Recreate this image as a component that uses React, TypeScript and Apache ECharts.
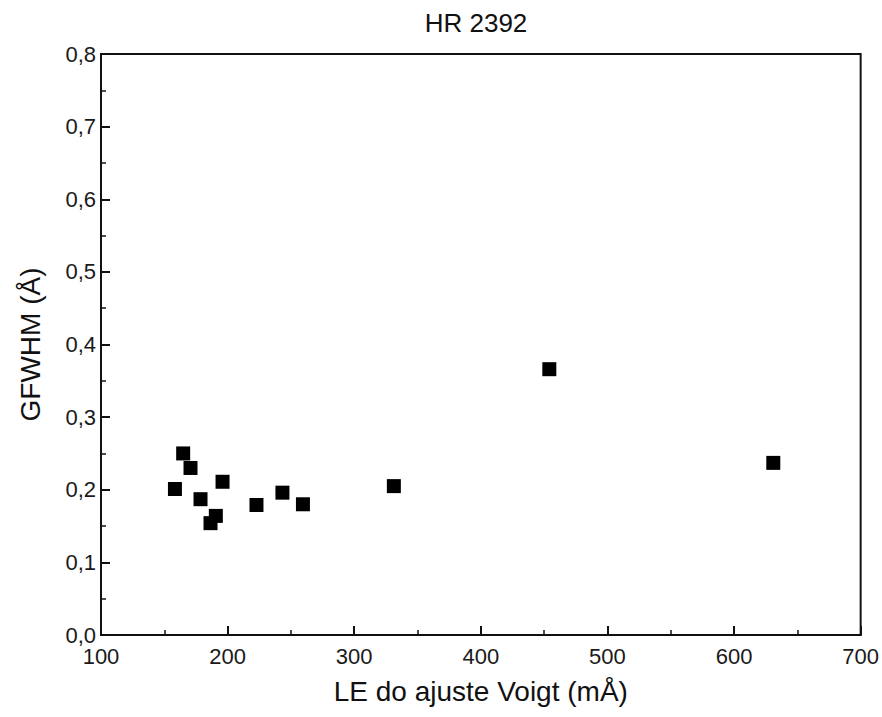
import React, { useEffect, useRef } from "react";
import * as echarts from "echarts";

const titleText = "HR 2392";
const xName = "LE do ajuste Voigt (mÅ)";
const yName = "GFWHM (Å)";
const xValues = [158.4, 164.9, 170.7, 178.6, 186.5, 190.7, 196.0, 222.8, 243.3, 259.5, 331.3, 454.1, 631.0];
const yValues = [0.201, 0.250, 0.230, 0.187, 0.154, 0.164, 0.211, 0.179, 0.196, 0.180, 0.205, 0.366, 0.237];

const FONT = "'Liberation Sans', Arial, sans-serif";

export default function App() {
  const ref = useRef<HTMLDivElement>(null);
  useEffect(() => {
    document.body.style.margin = "0";
    const chart = echarts.init(ref.current!, null, { renderer: "svg" });
    const data = xValues.map((x, i) => [x, yValues[i]]);
    chart.setOption({
      animation: false,
      backgroundColor: "#ffffff",
      textStyle: { fontFamily: FONT },
      title: {
        text: titleText,
        left: 471,
        top: 5,
        textAlign: "center",
        textStyle: { fontFamily: FONT, fontSize: 26, fontWeight: "normal", color: "#111" },
      },
      grid: {
        left: 101,
        right: 20,
        top: 54,
        bottom: 82,
        show: true,
        borderColor: "#111",
        borderWidth: 2,
        backgroundColor: "transparent",
      },
      xAxis: {
        type: "value",
        min: 100,
        max: 700,
        interval: 100,
        name: xName,
        nameLocation: "middle",
        nameGap: 42,
        nameTextStyle: { fontFamily: FONT, fontSize: 28, color: "#111" },
        axisLine: { show: true, lineStyle: { color: "#111", width: 2 } },
        axisTick: { show: true, inside: true, length: 9, lineStyle: { color: "#111", width: 2 } },
        minorTick: { show: true, splitNumber: 2, length: 5, lineStyle: { color: "#111", width: 1.5 } },
        splitLine: { show: false },
        axisLabel: { fontFamily: FONT, fontSize: 22, color: "#1a1a1a", margin: 10 },
      },
      yAxis: {
        type: "value",
        min: 0,
        max: 0.8,
        interval: 0.1,
        name: yName,
        nameLocation: "middle",
        nameGap: 57,
        nameTextStyle: { fontFamily: FONT, fontSize: 28, color: "#111" },
        axisLine: { show: true, lineStyle: { color: "#111", width: 2 } },
        axisTick: { show: true, inside: true, length: 9, lineStyle: { color: "#111", width: 2 } },
        minorTick: { show: true, splitNumber: 2, length: 5, lineStyle: { color: "#111", width: 1.5 } },
        splitLine: { show: false },
        axisLabel: {
          fontFamily: FONT,
          fontSize: 22,
          color: "#1a1a1a",
          margin: 5,
          formatter: (v: number) => v.toFixed(1).replace(".", ","),
        },
      },
      series: [
        {
          type: "scatter",
          data,
          symbol: "rect",
          symbolSize: 14,
          itemStyle: { color: "#000", opacity: 1 },
        },
      ],
    });
    return () => chart.dispose();
  }, []);
  return <div ref={ref} style={{ width: 882, height: 717 }} />;
}
